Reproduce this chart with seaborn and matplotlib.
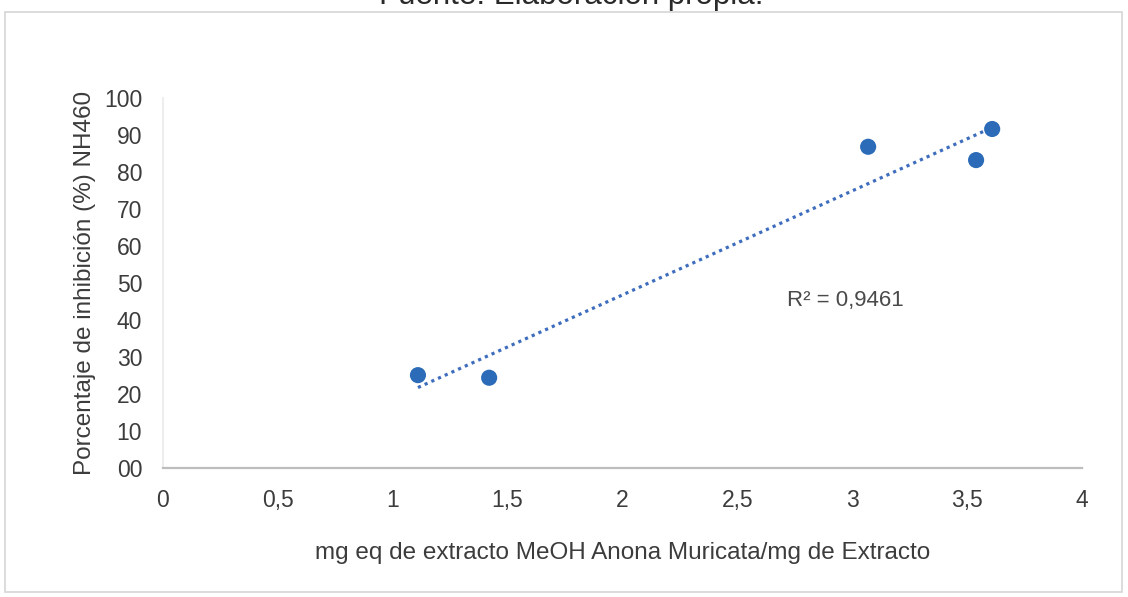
import matplotlib
matplotlib.use("Agg")
import matplotlib.pyplot as plt
from matplotlib.patches import Rectangle
import numpy as np
import pandas as pd
import seaborn as sns

# Concentration of extract (mg eq) and inhibition percentage
extracto_mg = [1.11, 1.42, 3.07, 3.54, 3.61]
inhibicion = [25.1, 24.4, 86.8, 83.2, 91.6]

x_ticks = [0, 0.5, 1, 1.5, 2, 2.5, 3, 3.5, 4]
x_tick_labels = ["0", "0,5", "1", "1,5", "2", "2,5", "3", "3,5", "4"]
y_ticks = [0, 10, 20, 30, 40, 50, 60, 70, 80, 90, 100]
y_tick_labels = ["00", "10", "20", "30", "40", "50", "60", "70", "80", "90", "100"]

r2_label = "R² = 0,9461"
x_title = "mg eq de extracto MeOH Anona Muricata/mg de Extracto"
y_title = "Porcentaje de inhibición (%) NH460"
source_note = "Fuente: Elaboración propia."

df = pd.DataFrame({"x": extracto_mg, "y": inhibicion})

sns.set_theme(style="white")
plt.rcParams["font.family"] = ["Liberation Sans", "DejaVu Sans"]

fig = plt.figure(figsize=(11.28, 5.97), dpi=100)
fig.patch.set_facecolor("white")
ax = fig.add_axes([0.1445, 0.216, 0.8145, 0.62])

point_color = "#2B6BB8"
trend_color = "#3F6DBE"

sns.regplot(
    data=df, x="x", y="y", ax=ax, ci=None, truncate=True,
    scatter_kws=dict(s=135, color=point_color, edgecolor="none", alpha=1, zorder=3),
    line_kws=dict(color=trend_color, linestyle=(0, (1, 1.3)), linewidth=2.3, zorder=2),
)

ax.set_xlim(0, 4)
ax.set_ylim(0, 100)
ax.set_xticks(x_ticks)
ax.set_xticklabels(x_tick_labels)
ax.set_yticks(y_ticks)
ax.set_yticklabels(y_tick_labels)
ax.tick_params(axis="both", length=0, labelsize=16.5, labelcolor="#3C3C3C")
ax.tick_params(axis="x", pad=15)
ax.tick_params(axis="y", pad=15)

ax.set_xlabel(x_title, fontsize=17.5, color="#3C3C3C", labelpad=22)
ax.set_ylabel(y_title, fontsize=17.5, color="#3C3C3C", labelpad=6)

for side in ("top", "right"):
    ax.spines[side].set_visible(False)
ax.spines["bottom"].set_color("#BDBDBD")
ax.spines["bottom"].set_linewidth(1.6)
ax.spines["left"].set_color("#EAEAEA")
ax.spines["left"].set_linewidth(1.2)

ax.text(2.716, 45.4, r2_label, fontsize=16, color="#4A4A4A", va="center", ha="left")

# Outer chart frame
fig.patches.append(Rectangle((0.0045, 0.008), 0.99, 0.972, transform=fig.transFigure,
                             fill=False, edgecolor="#D5D5D5", linewidth=1.2))

# Source note, partly cut at the top edge
fig.text(0.506, 0.994, source_note, fontsize=22.5, color="#2A2A2A", ha="center", va="baseline")

fig.savefig("out.png", dpi=100, facecolor="white")
